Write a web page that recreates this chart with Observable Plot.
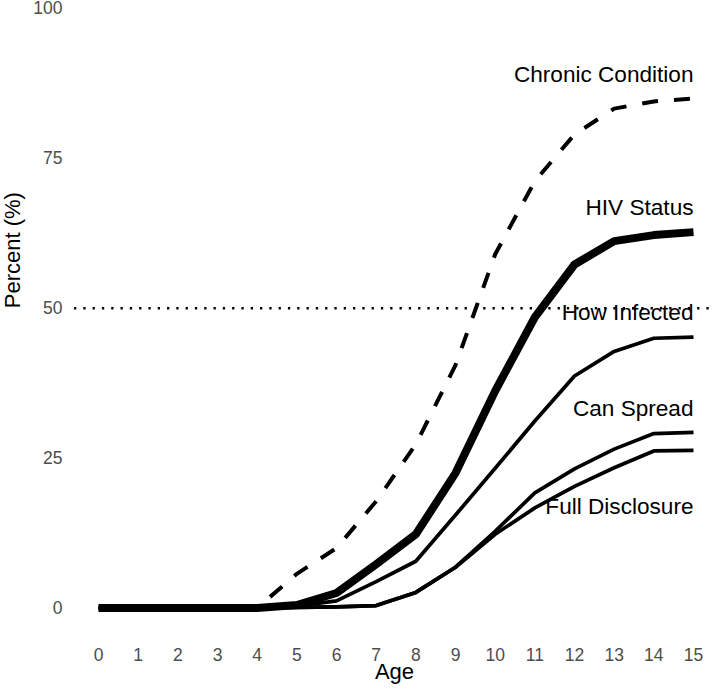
<!DOCTYPE html>
<html>
<head>
<meta charset="utf-8">
<script src="https://cdn.jsdelivr.net/npm/d3@7"></script>
<script src="https://cdn.jsdelivr.net/npm/@observablehq/plot@0.6"></script>
<style>
  html, body { margin: 0; padding: 0; background: #fff; }
</style>
</head>
<body>
<div id="chart"></div>
<script>
const ages = [0, 1, 2, 3, 4, 5, 6, 7, 8, 9, 10, 11, 12, 13, 14, 15];
const chronicCondition = [0, 0, 0, 0, 0, 5.7, 10, 17.8, 27.3, 40.5, 59, 71.2, 79, 83.3, 84.5, 85];
const hivStatus        = [0, 0, 0, 0, 0, 0.5, 2.5, 7.3, 12.3, 22.5, 36.2, 48.5, 57.3, 61.2, 62.2, 62.7];
const howInfected      = [0, 0, 0, 0, 0, 0.3, 1.2, 4.4, 7.8, 15.5, 23.3, 31.2, 38.7, 42.8, 45, 45.2];
const canSpread        = [0, 0, 0, 0, 0, 0.1, 0.2, 0.4, 2.6, 6.8, 12.8, 19.2, 23.2, 26.5, 29.1, 29.3];
const fullDisclosure   = [0, 0, 0, 0, 0, 0.1, 0.2, 0.4, 2.6, 6.8, 12.3, 16.7, 20.3, 23.4, 26.2, 26.3];

const labelNames  = ["Chronic Condition", "HIV Status", "How Infected", "Can Spread", "Full Disclosure"];
const labelY      = [88.9, 66.75, 49.25, 33.25, 16.9];
const yTicks      = [0, 25, 50, 75, 100];
const refLine     = [50];

const toRows = (vals) => ages.map((a, i) => ({age: a, value: vals[i]}));
const labels = labelNames.map((n, i) => ({name: n, age: 15, value: labelY[i]}));

const font = "'Liberation Sans', Arial, Helvetica, sans-serif";

const chart = Plot.plot({
  width: 716,
  height: 693,
  marginLeft: 74,
  marginRight: 2,
  marginTop: 0,
  marginBottom: 53,
  style: {fontFamily: font, background: "#fff", overflow: "visible"},
  x: {domain: [0, 15], range: [98, 693]},
  y: {domain: [0, 100], range: [607.5, 8]},
  marks: [
    Plot.ruleY(refLine, {stroke: "#000", strokeWidth: 2.3, strokeDasharray: "2.3,7"}),
    Plot.line(toRows(chronicCondition), {x: "age", y: "value", stroke: "#000", strokeWidth: 4, strokeDasharray: "16,16", strokeDashoffset: 16.3, strokeLinecap: "butt"}),
    Plot.line(toRows(fullDisclosure), {x: "age", y: "value", stroke: "#000", strokeWidth: 3.7, strokeLinecap: "butt"}),
    Plot.line(toRows(canSpread), {x: "age", y: "value", stroke: "#000", strokeWidth: 3.7, strokeLinecap: "butt"}),
    Plot.line(toRows(howInfected), {x: "age", y: "value", stroke: "#000", strokeWidth: 3.7, strokeLinecap: "butt"}),
    Plot.line(toRows(hivStatus), {x: "age", y: "value", stroke: "#000", strokeWidth: 8, strokeLinecap: "butt"}),
    Plot.text(labels, {x: "age", y: "value", text: "name", textAnchor: "end", fontSize: 22.6, fill: "#000"}),
    Plot.axisX({ticks: ages, tickSize: 0, tickPadding: 8, fontSize: 17.5, fill: "#4d4d4d", label: null}),
    Plot.axisY({ticks: yTicks, tickSize: 0, tickPadding: 12, fontSize: 17.5, fill: "#4d4d4d", label: null}),
    Plot.text(["Age"], {frameAnchor: "bottom", text: d => d, dy: 38, fontSize: 22, fill: "#000"}),
    Plot.text(["Percent (%)"], {y: () => 50, frameAnchor: "left", text: d => d, dx: -62, rotate: -90, fontSize: 22, fill: "#000"})
  ]
});
document.getElementById("chart").appendChild(chart);
</script>
</body>
</html>
